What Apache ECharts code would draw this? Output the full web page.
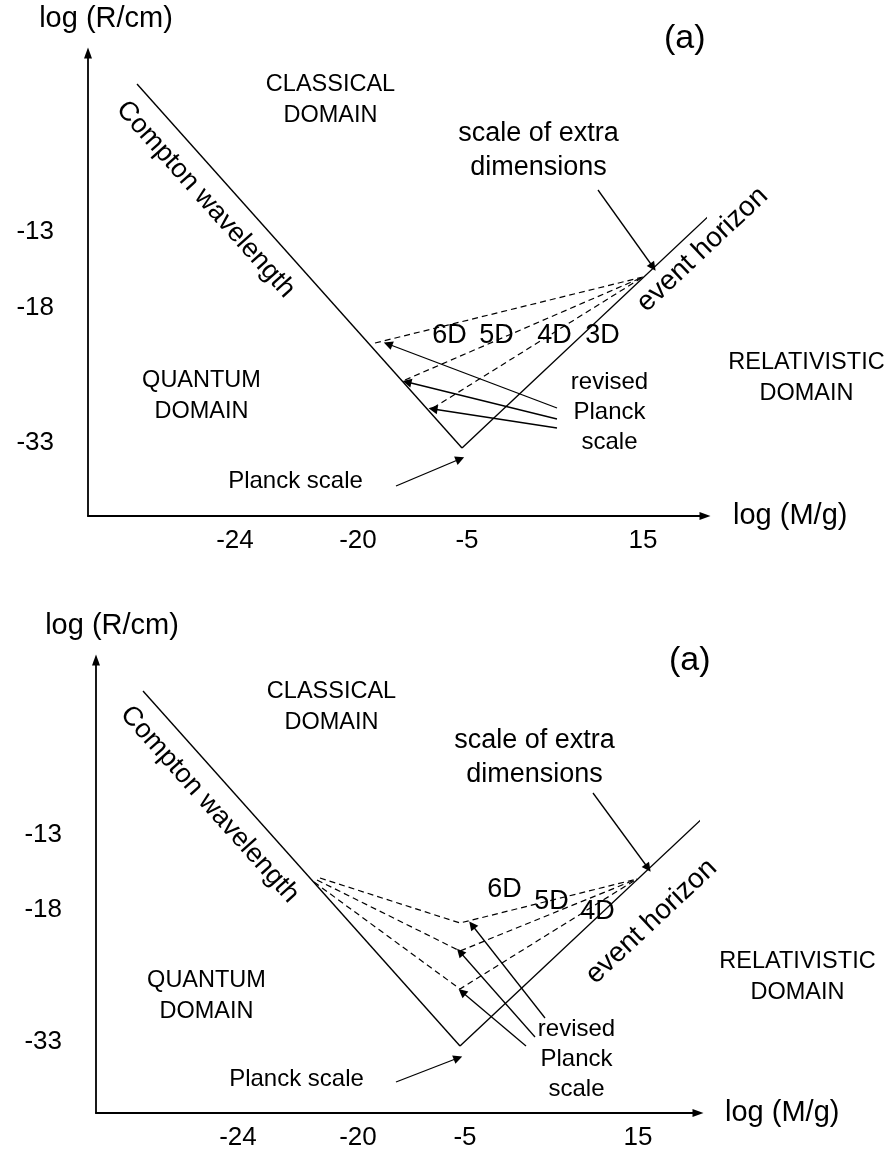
<!DOCTYPE html>
<html>
<head>
<meta charset="utf-8">
<title>Classical, quantum and relativistic domains</title>
<script src="https://cdn.jsdelivr.net/npm/echarts@6/dist/echarts.min.js"></script>
<style>
  html, body { margin: 0; padding: 0; background: #fff; }
  #chart { width: 895px; height: 1160px; }
</style>
</head>
<body>
<div id="chart"></div>
<script>
const FONT = '"Liberation Sans", Arial, sans-serif';
const INK = '#000';

// schematic diagram, both axes in the same units (1 unit = 1 px from the axis corner)
const xTickText = ['-24', '-20', '-5', '15'];
const yTickText = ['-13', '-18', '-33'];
const domainNames = ['CLASSICAL\nDOMAIN', 'QUANTUM\nDOMAIN', 'RELATIVISTIC\nDOMAIN'];

// top panel
const topXTicks = [147, 270, 379, 555];
const topYTicks = [284, 208, 73];
const topCompton = [[49, 432], [374, 68]];
const topHorizon = [[374, 68], [709, 383]];
const topDashed = [
    [[287, 173], [555, 239]],
    [[317, 136], [555, 239]],
    [[345, 108], [555, 239]],
];
const topArrows = [
    [[510, 326], [565, 249]],
    [[469, 108], [300, 172]],
    [[469, 97], [319, 134]],
    [[469, 88], [345, 107]],
    [[308, 30], [372, 57]],
];
const topDims = ['6D', '5D', '4D', '3D'];
const topDimAt = [[362, 180], [409, 180], [467, 180], [515, 180]];
const topDomainAt = [[243, 415], [114, 119], [719, 137]];
const topExtraAt = [451, 365];
const topRevisedAt = [522, 103];
const topPlanckAt = [208, 34];
const topComptonAt = [118, 316];
const topHorizonAt = [615, 266];

// bottom panel
const botXTicks = [142, 262, 369, 542];
const botYTicks = [278, 203, 71];
const botCompton = [[47, 422], [364, 67]];
const botHorizon = [[364, 67], [692, 375]];
const botDashed = [
    [[224, 235], [364, 190], [541, 234]],
    [[221, 233], [364, 162], [541, 234]],
    [[218, 231], [364, 124], [541, 234]],
];
const botArrows = [
    [[497, 320], [552, 245]],
    [[449, 95], [376, 188]],
    [[439, 76], [364, 161]],
    [[430, 67], [366, 121]],
    [[300, 31], [362, 55]],
];
const botDims = ['6D', '5D', '4D'];
const botDimAt = [[409, 223], [456, 211], [502, 201]];
const botDomainAt = [[236, 405], [111, 116], [702, 135]];
const botExtraAt = [439, 355];
const botRevisedAt = [481, 53];
const botPlanckAt = [201, 33];
const botComptonAt = [114, 308];
const botHorizonAt = [556, 191];

const angle = pts => Math.atan2(pts[1][1] - pts[0][1], pts[1][0] - pts[0][0]) * 180 / Math.PI;

const textSeries = (gi, names, pts, size, extra) => ({
    type: 'scatter',
    xAxisIndex: gi,
    yAxisIndex: gi,
    silent: true,
    clip: false,
    symbolSize: 1,
    itemStyle: { color: 'rgba(255,255,255,0)', opacity: 1 },
    data: names.map((n, i) => ({ name: n, value: pts[i] })),
    label: {
        show: true,
        position: [0, 0],
        align: 'center',
        verticalAlign: 'middle',
        formatter: '{b}',
        color: INK,
        opacity: 1,
        textBorderWidth: 0,
        fontFamily: FONT,
        fontSize: size,
        lineHeight: 31,
        ...extra,
    },
})

function panelSeries(gi, p) {
    const out = []
    const base = { xAxisIndex: gi, yAxisIndex: gi, silent: true, clip: false, symbol: 'none' }
    ;[p.compton, p.horizon].forEach(pts => {
        out.push({ ...base, type: 'line', data: pts, lineStyle: { color: INK, width: 1.4 } })
    })
    p.dashed.forEach(pts => {
        out.push({ ...base, type: 'line', data: pts, lineStyle: { color: INK, width: 1.2, type: [6, 4] } })
    })
    out.push({
        ...base,
        type: 'line',
        data: [p.arrows[0][0]],
        markLine: {
            silent: true,
            symbol: ['none', 'triangle'],
            symbolSize: 9,
            label: { show: false },
            itemStyle: { color: INK },
            lineStyle: { color: INK, width: 1.3, type: 'solid', opacity: 1 },
            data: p.arrows.map(a => [{ coord: a[0] }, { coord: a[1] }]),
        },
    })
    out.push(textSeries(gi, domainNames, p.domainAt, 23.5))
    out.push(textSeries(gi, p.dims, p.dimAt, 27))
    out.push(textSeries(gi, ['scale of extra\ndimensions'], [p.extraAt], 27, { lineHeight: 34 }))
    out.push(textSeries(gi, ['revised\nPlanck\nscale', 'Planck scale'], [p.revisedAt, p.planckAt], 24, { lineHeight: 30 }))
    out.push({
        ...textSeries(gi, [], [], 27),
        data: [
            { name: 'Compton wavelength', value: p.comptonAt, label: { rotate: angle(p.compton) } },
            { name: 'event horizon', value: p.horizonAt, label: { rotate: angle(p.horizon), fontSize: 28 } },
        ],
    })
    return out
}

const xAxisFor = (gi, max, ticks, gap) => ({
    gridIndex: gi,
    type: 'value',
    min: 0,
    max,
    axisLine: { show: true, onZero: false, symbol: ['none', 'triangle'], symbolSize: [8, 11], lineStyle: { color: INK, width: 1.8 } },
    axisTick: { show: false },
    splitLine: { show: false },
    axisLabel: {
        customValues: ticks,
        formatter: v => xTickText[ticks.indexOf(v)],
        color: INK, fontFamily: FONT, fontSize: 26, margin: 12,
    },
    name: 'log (M/g)',
    nameLocation: 'end',
    nameGap: gap,
    nameTextStyle: { color: INK, fontFamily: FONT, fontSize: 29 },
})

const yAxisFor = (gi, max, ticks, shift) => ({
    gridIndex: gi,
    type: 'value',
    min: 0,
    max,
    axisLine: { show: true, onZero: false, symbol: ['none', 'triangle'], symbolSize: [8, 11], lineStyle: { color: INK, width: 1.8 } },
    axisTick: { show: false },
    splitLine: { show: false },
    axisLabel: {
        customValues: ticks,
        formatter: v => yTickText[ticks.indexOf(v)],
        color: INK, fontFamily: FONT, fontSize: 26, margin: 34,
    },
    name: 'log (R/cm)',
    nameLocation: 'end',
    nameGap: 20,
    nameTextStyle: { color: INK, fontFamily: FONT, fontSize: 29, padding: [0, 0, 0, shift] },
})

const chart = echarts.init(document.getElementById('chart'), null, { renderer: 'canvas' })

chart.setOption({
    animation: false,
    backgroundColor: '#fff',
    title: [
        { text: '(a)', left: 664, top: 22, padding: 0, textStyle: { fontSize: 34, fontWeight: 'normal', color: INK, fontFamily: FONT } },
        { text: '(a)', left: 669, top: 644, padding: 0, textStyle: { fontSize: 34, fontWeight: 'normal', color: INK, fontFamily: FONT } },
    ],
    grid: [
        { left: 88, top: 53, width: 617, height: 463, containLabel: false, outerBoundsMode: 'none' },
        { left: 96, top: 660, width: 602, height: 453, containLabel: false, outerBoundsMode: 'none' },
    ],
    xAxis: [xAxisFor(0, 617, topXTicks, 28), xAxisFor(1, 602, botXTicks, 27)],
    yAxis: [yAxisFor(0, 463, topYTicks, 36), yAxisFor(1, 453, botYTicks, 32)],
    series: [
        ...panelSeries(0, {
            compton: topCompton, horizon: topHorizon, dashed: topDashed, arrows: topArrows,
            dims: topDims, dimAt: topDimAt, domainAt: topDomainAt, extraAt: topExtraAt,
            revisedAt: topRevisedAt, planckAt: topPlanckAt, comptonAt: topComptonAt, horizonAt: topHorizonAt,
        }),
        ...panelSeries(1, {
            compton: botCompton, horizon: botHorizon, dashed: botDashed, arrows: botArrows,
            dims: botDims, dimAt: botDimAt, domainAt: botDomainAt, extraAt: botExtraAt,
            revisedAt: botRevisedAt, planckAt: botPlanckAt, comptonAt: botComptonAt, horizonAt: botHorizonAt,
        }),
    ],
})
</script>
</body>
</html>
